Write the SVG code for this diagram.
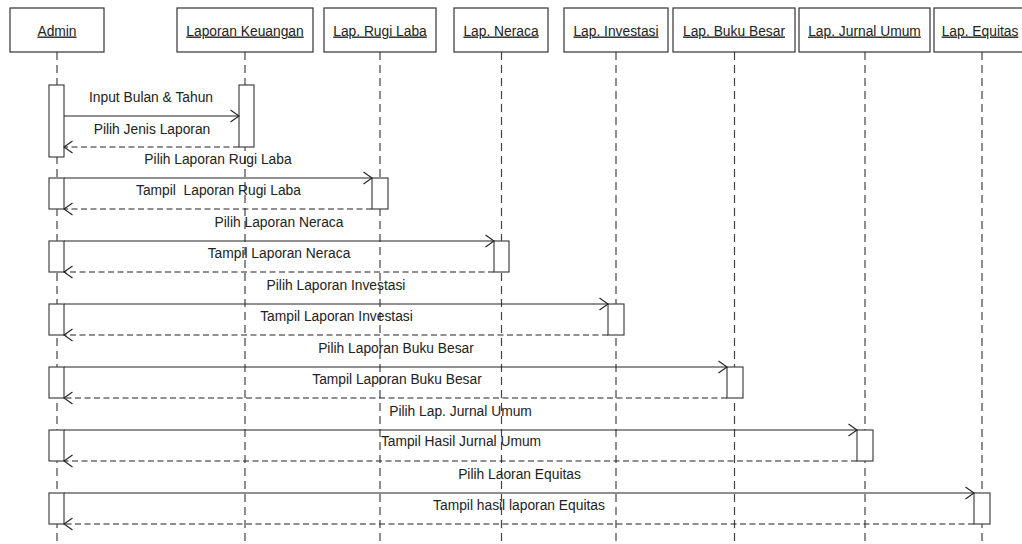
<svg xmlns="http://www.w3.org/2000/svg" width="1022" height="544" viewBox="0 0 1022 544">
<style>
.box{fill:#fff;stroke:#333;stroke-width:1.2}
.hdr{font-family:"Liberation Sans",Arial,sans-serif;font-size:13.8px;fill:#222;text-anchor:middle;text-decoration:underline}
.life{stroke:#444;stroke-width:1.2;stroke-dasharray:8,5;fill:none}
.act{fill:#fff;stroke:#444;stroke-width:1.2}
.msg{stroke:#222;stroke-width:1.1;fill:none;marker-end:url(#ah)}
.ret{stroke:#222;stroke-width:1.1;fill:none;stroke-dasharray:6,3.5;marker-end:url(#ah)}
.lbl{font-family:"Liberation Sans",Arial,sans-serif;font-size:13.8px;fill:#222;text-anchor:middle;white-space:pre}
</style>
<defs>
<marker id="ah" markerUnits="userSpaceOnUse" markerWidth="10" markerHeight="14" refX="8.5" refY="6" orient="auto" overflow="visible">
<path d="M0,0 L8.5,6 L0,12" fill="none" stroke="#222" stroke-width="1.1" stroke-dasharray="none"/>
</marker>
</defs>
<rect width="1022" height="544" fill="#fff"/>
<g id="lifelines">
<line class="life" x1="57" y1="52" x2="57" y2="544"/>
<line class="life" x1="245" y1="52" x2="245" y2="544"/>
<line class="life" x1="380" y1="52" x2="380" y2="544"/>
<line class="life" x1="501.5" y1="52" x2="501.5" y2="544"/>
<line class="life" x1="616" y1="52" x2="616" y2="544"/>
<line class="life" x1="734.5" y1="52" x2="734.5" y2="544"/>
<line class="life" x1="865" y1="52" x2="865" y2="544"/>
<line class="life" x1="982" y1="52" x2="982" y2="544"/>
</g>
<g id="node-admin"><rect class="box" x="10" y="8" width="94" height="44"/><text class="hdr" x="57" y="35.5">Admin</text></g>
<g id="node-laporan-keuangan"><rect class="box" x="177" y="8" width="136" height="44"/><text class="hdr" x="245" y="35.5">Laporan Keuangan</text></g>
<g id="node-rugi-laba"><rect class="box" x="324" y="8" width="112" height="44"/><text class="hdr" x="380" y="35.5">Lap. Rugi Laba</text></g>
<g id="node-neraca"><rect class="box" x="454" y="8" width="94" height="44"/><text class="hdr" x="501" y="35.5">Lap. Neraca</text></g>
<g id="node-investasi"><rect class="box" x="564" y="8" width="104" height="44"/><text class="hdr" x="616" y="35.5">Lap. Investasi</text></g>
<g id="node-buku-besar"><rect class="box" x="673" y="8" width="122" height="44"/><text class="hdr" x="734" y="35.5">Lap. Buku Besar</text></g>
<g id="node-jurnal-umum"><rect class="box" x="799" y="8" width="131" height="44"/><text class="hdr" x="864.5" y="35.5">Lap. Jurnal Umum</text></g>
<g id="node-equitas"><rect class="box" x="934" y="8" width="98" height="44"/><text class="hdr" x="980" y="35.5">Lap. Equitas</text></g>
<g id="activations">
<rect class="act" x="49" y="85" width="15" height="72"/>
<rect class="act" x="239" y="85" width="15" height="62"/>
<rect class="act" x="49" y="178" width="15" height="31"/>
<rect class="act" x="372" y="178" width="16" height="31"/>
<rect class="act" x="49" y="241" width="15" height="31"/>
<rect class="act" x="494" y="241" width="15" height="31"/>
<rect class="act" x="49" y="304" width="15" height="31"/>
<rect class="act" x="608" y="304" width="16" height="31"/>
<rect class="act" x="49" y="367" width="15" height="31"/>
<rect class="act" x="727" y="367" width="16" height="31"/>
<rect class="act" x="49" y="430" width="15" height="31"/>
<rect class="act" x="857" y="430" width="16" height="31"/>
<rect class="act" x="49" y="493" width="15" height="31"/>
<rect class="act" x="974" y="493" width="16" height="31"/>
</g>
<g id="connectors">
<line class="msg" x1="64" y1="116" x2="239" y2="116"/>
<line class="ret" x1="239" y1="147" x2="64" y2="147"/>
<line class="msg" x1="64" y1="178" x2="372" y2="178"/>
<line class="ret" x1="372" y1="209" x2="64" y2="209"/>
<line class="msg" x1="64" y1="241" x2="494" y2="241"/>
<line class="ret" x1="494" y1="272" x2="64" y2="272"/>
<line class="msg" x1="64" y1="304" x2="608" y2="304"/>
<line class="ret" x1="608" y1="335" x2="64" y2="335"/>
<line class="msg" x1="64" y1="367" x2="727" y2="367"/>
<line class="ret" x1="727" y1="398" x2="64" y2="398"/>
<line class="msg" x1="64" y1="430" x2="857" y2="430"/>
<line class="ret" x1="857" y1="461" x2="64" y2="461"/>
<line class="msg" x1="64" y1="493" x2="974" y2="493"/>
<line class="ret" x1="974" y1="524" x2="64" y2="524"/>
</g>
<g id="labels">
<text class="lbl" x="151" y="102">Input Bulan &amp; Tahun</text>
<text class="lbl" x="152" y="134">Pilih Jenis Laporan</text>
<text class="lbl" x="218" y="164">Pilih Laporan Rugi Laba</text>
<text class="lbl" x="218.5" y="195" xml:space="preserve">Tampil  Laporan Rugi Laba</text>
<text class="lbl" x="279" y="227">Pilih Laporan Neraca</text>
<text class="lbl" x="279" y="258">Tampil Laporan Neraca</text>
<text class="lbl" x="336" y="290">Pilih Laporan Investasi</text>
<text class="lbl" x="336.5" y="321">Tampil Laporan Investasi</text>
<text class="lbl" x="396" y="353">Pilih Laporan Buku Besar</text>
<text class="lbl" x="397" y="384">Tampil Laporan Buku Besar</text>
<text class="lbl" x="460.5" y="416">Pilih Lap. Jurnal Umum</text>
<text class="lbl" x="461" y="446">Tampil Hasil Jurnal Umum</text>
<text class="lbl" x="519.5" y="479">Pilih Laoran Equitas</text>
<text class="lbl" x="519" y="510">Tampil hasil laporan Equitas</text>
</g>
</svg>
